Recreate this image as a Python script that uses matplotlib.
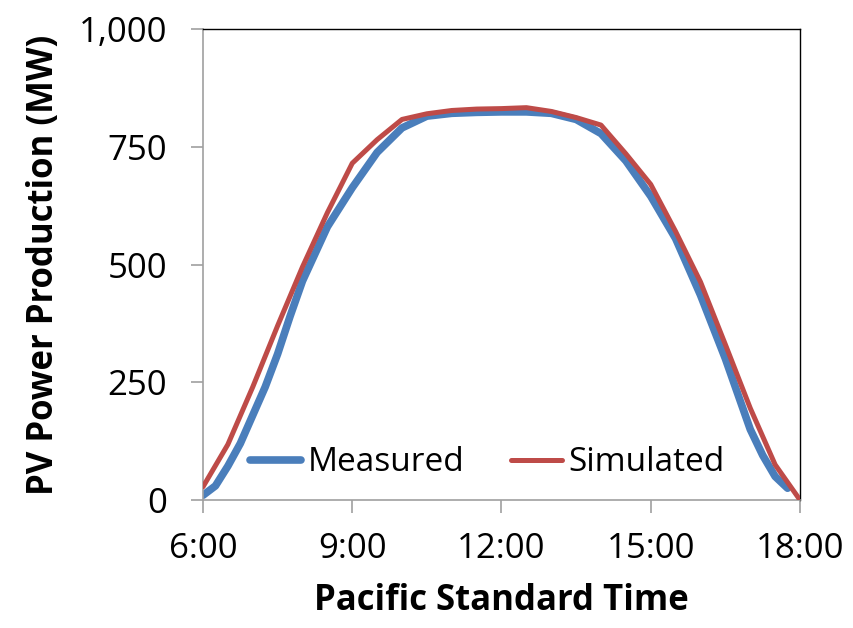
import matplotlib
matplotlib.use("Agg")
import matplotlib.pyplot as plt

# ---- data ----
measured_t = [6.0, 6.25, 6.5, 6.75, 7.0, 7.25, 7.5, 7.75, 8.0, 8.5, 9.0, 9.5, 10.0, 10.5,
              11.0, 11.5, 12.0, 12.5, 13.0, 13.5, 14.0, 14.5, 15.0, 15.5, 16.0, 16.5,
              17.0, 17.25, 17.5, 17.75]
measured_mw = [10, 30, 72, 120, 180, 240, 310, 390, 465, 580, 663, 738, 790, 815,
               821, 823, 824, 824, 821, 808, 778, 720, 645, 555, 435, 300,
               150, 95, 50, 25]

simulated_t = [6.0, 6.5, 7.0, 7.5, 8.0, 8.5, 9.0, 9.5, 10.0, 10.5, 11.0, 11.5, 12.0,
               12.5, 13.0, 13.5, 14.0, 14.5, 15.0, 15.5, 16.0, 16.5, 17.0, 17.5, 18.0]
simulated_mw = [28, 118, 240, 370, 495, 610, 715, 765, 808, 820, 827, 830, 831,
                833, 825, 812, 796, 735, 670, 570, 463, 330, 195, 75, 0]

x_ticks = [6, 9, 12, 15, 18]
x_tick_labels = ["6:00", "9:00", "12:00", "15:00", "18:00"]
y_ticks = [0, 250, 500, 750, 1000]
y_tick_labels = ["0", "250", "500", "750", "1,000"]

BLUE = "#4A7EBB"
RED = "#BE4B48"
FONT = ["Open Sans", "DejaVu Sans"]

plt.rcParams["font.family"] = FONT

fig = plt.figure(figsize=(8.54, 6.28), dpi=100)
ax = fig.add_axes([203 / 854, 1 - 500 / 628, (800 - 203) / 854, (500 - 29) / 628])

ax.plot(measured_t, measured_mw, color=BLUE, lw=5.5, solid_capstyle="round",
        solid_joinstyle="round", label="Measured", zorder=2)
ax.plot(simulated_t, simulated_mw, color=RED, lw=3.6, solid_capstyle="round",
        solid_joinstyle="round", label="Simulated", zorder=3)

ax.set_xlim(6, 18)
ax.set_ylim(0, 1000)
ax.set_xticks(x_ticks)
ax.set_xticklabels(x_tick_labels)
ax.set_yticks(y_ticks)
ax.set_yticklabels(y_tick_labels)

for side in ["left", "bottom"]:
    ax.spines[side].set_color("#A0A0A0")
    ax.spines[side].set_linewidth(1.2)
for side in ["top", "right"]:
    ax.spines[side].set_color("black")
    ax.spines[side].set_linewidth(1.0)

ax.tick_params(axis="both", direction="out", length=9, width=1.2, color="#A0A0A0",
               labelsize=25, labelcolor="black")
ax.tick_params(axis="y", pad=17)
ax.tick_params(axis="x", pad=14)

ax.set_xlabel("Pacific Standard Time", fontsize=25, fontweight="bold", labelpad=12)
ax.set_ylabel("PV Power Production (MW)", fontsize=25, fontweight="bold", labelpad=12)

leg = ax.legend(loc="lower center", bbox_to_anchor=(0.476, -0.02), ncol=2, frameon=False,
                fontsize=24, handlelength=1.55, handletextpad=0.18, columnspacing=1.4)

fig.savefig("out.png", dpi=100)
